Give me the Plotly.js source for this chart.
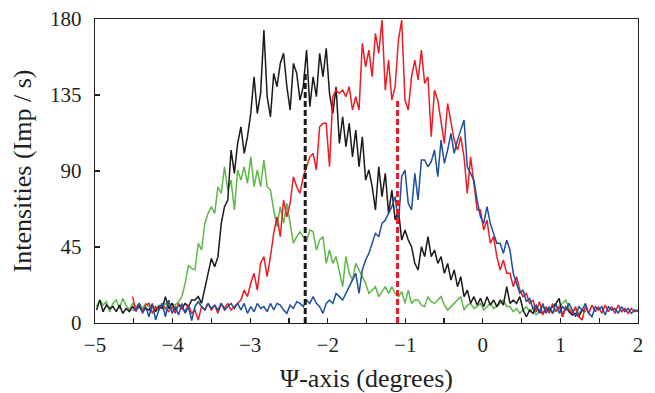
<!DOCTYPE html>
<html><head><meta charset="utf-8">
<script src="https://cdn.plot.ly/plotly-3.0.1.min.js"></script>
<style>html,body{margin:0;padding:0;background:#fff}</style>
</head><body><div id="chart" style="width:655px;height:393px"></div>
<script>
// Sampling grid (degrees)
const step = 0.0423;
const startBlackGreen = -4.980;
const startRedBlue = -4.515;

const blackSeries = [7.7,13.6,6.7,10.6,8.6,9.7,6.7,10.6,5.7,8.6,6.7,9.7,7.7,9.7,6.7,8.6,7.7,10.6,6.7,9.7,8.6,15.6,8.6,11.6,7.7,10.6,8.6,11.6,9.7,13.6,
13.6,15.6,11.6,21.5,29.4,38.2,33.3,39.3,59,68.9,72.8,102.4,88.6,106.3,116.2,100.4,110.3,124.1,145.8,124.1,136,173.5,134,122.1,147.8,139.9,153.7,159.7,139.9,126.1,153.7,147.8,
132,139.9,161.6,128.1,145.8,134,159.7,145.8,162.6,136,124.1,139.9,106.3,122.1,104.4,118.2,98.4,114.2,92.5,110.3,84.6,90.6,80.7,66.9,92.5,74.8,88.6,64.9,78.7,61,66.9,49.1,
55.1,49.1,45.2,35.3,31.4,45.2,39.3,51.1,39.3,43.2,35.3,39.3,29.4,35.3,25.4,31.4,21.5,27.4,15.6,19.5,11.6,15.6,10.6,14.6,9.7,15.6,10.6,13.6,9.7,13.6,10.6,21.5,
11.6,13.6,11.6,15.6,7.7,3.7,7.7,5.7,9.7,6.7,5.7,8.6,7.7,9.7,11.6,14.6,3.7,9.7,6.7,4.7,5.7,3.7,7.7,6.7];

const greenSeries = [9.7,13.6,10.6,12.6,6.7,11.6,13.6,8.6,14.6,10.6,7.7,11.6,9.7,11.6,8.6,11.6,9.7,10.6,7.7,10.6,9.7,11.6,8.6,11.6,10.6,12.6,15.6,23.5,34.3,32.3,
31.4,47.2,43.2,59,64.9,68.9,64.9,80.7,76.7,92.5,78.7,84.6,66.9,90.6,84.6,92.5,82.7,98.4,80.7,90.6,80.7,96.5,80.7,78.7,66.9,57,68.9,59,70.9,59,47.2,51.1,
54,51.1,48.2,55.1,54,43.2,49.1,51.1,35.3,43.2,35.3,39.3,29.4,21.5,39.3,29.4,25.4,35.3,31.4,27.4,23.5,17.5,19.5,21.5,15.6,18.5,21.5,17.5,21.5,17.5,15.6,18.5,
11.6,19.5,11.6,13.6,13.6,10.6,9.7,15.6,12.6,11.6,13.6,15.6,10.6,7.7,9.7,11.6,13.6,15.6,7.7,10.6,11.6,8.6,9.7,11.6,7.7,9.7,11.6,8.6,9.7,11.6,13.6,9.7,
9.7,6.7,8.6,5.7,7.7,9.7,6.7,8.6,4.7,7.7,9.7,6.7,8.6,5.7,7.7,9.7,11.6,13.6,8.6,6.7,7.7,5.7,7.7,6.7];

const redSeries = [15.6,6.7,11.6,6.7,10.6,11.6,5.7,9.7,7.7,11.6,8.6,6.7,9.7,5.7,11.6,8.6,6.7,10.6,5.7,
7.7,1.8,9.7,7.7,11.6,7.7,10.6,5.7,11.6,8.6,11.6,7.7,9.7,11.6,13.6,19.5,15.6,23.5,29.4,19.5,35.3,39.3,27.4,39.3,53.1,62.9,51.1,72.8,62.9,70.9,86.6,80.7,
76.7,86.6,92.5,98.4,100.4,90.6,116.2,118.2,118.2,92.5,134,137.9,136,137.9,134,139.9,126.1,134,126.1,165.6,151.7,161.6,145.8,171.5,159.7,179.4,137.9,155.7,132,139.9,167.5,179.4,
132,126.1,145.8,155.7,143.9,161.6,141.9,145.8,110.3,137.9,132,120.2,106.3,130,120.2,108.3,102.4,110.3,98.4,76.7,98.4,82.7,66.9,66.9,55.1,61,47.2,51.1,39.3,31.4,37.3,29.4,
29.4,21.5,27.4,19.5,15.6,17.5,11.6,13.6,6.7,12.6,4.7,9.7,5.7,11.6,6.7,9.7,3.7,9.7,7.7,5.7,9.7,3.7,1.8,9.7,5.7,10.6,6.7,9.7,5.7,10.6,6.7,9.7,5.7,10.6,6.7,8.6,5.7,8.6,6.7,7.7];

const blueSeries = [7.7,7.7,11.6,5.7,9.7,3.7,11.6,1.8,7.7,11.6,3.7,13.6,5.7,9.7,4.7,11.6,5.7,9.7,1.5,
9.7,12.6,9.7,7.7,11.6,8.6,10.6,7.7,11.6,7.7,9.7,11.6,8.6,11.6,7.7,11.6,5.7,9.7,6.7,11.6,8.6,9.7,6.7,11.6,7.7,11.6,10.6,7.7,5.7,10.6,8.6,12.6,
11.6,9.7,13.6,11.6,15.6,11.6,9.7,5.7,11.6,13.6,11.6,17.5,15.6,13.6,17.5,21.5,25.4,29.4,17.5,31.4,37.3,41.2,47.2,53.1,51.1,59,61,64.9,68.9,74.8,59,86.6,
90.6,70.9,66.9,88.6,72.8,96.5,96.5,92.5,95.5,102.4,86.6,108.3,94.5,102.4,112.3,100.4,108.3,114.2,120.2,92.5,88.6,84.6,72.8,62.9,59,68.9,59,53.1,47.2,47.2,41.2,49.1,
43.2,29.4,23.5,17.5,19.5,12.6,14.6,8.6,10.6,5.7,11.6,5.7,9.7,5.7,11.6,5.7,9.7,7.7,11.6,7.7,3.7,9.7,7.7,11.6,5.7,3.7,9.7,7.7,9.7,4.7,9.7,7.7,8.6,5.7,9.7,6.7,8.6,5.7,7.7,6.7];

// Peak markers (dashed verticals)
const markerX = [-2.29, -1.1];
const markerTop = [149, 132];

const xTicks = [-5, -4, -3, -2, -1, 0, 1, 2];
const yTicks = [0, 45, 90, 135, 180];

const C = {black:'#1a1a1a', red:'#ec1c24', green:'#5cb847', blue:'#1d4f9f'};
const lw = 1.5;

const traces = [
  {y: greenSeries, x0: startBlackGreen, dx: step, type:'scatter', mode:'lines', line:{color:C.green, width:lw}},
  {y: blackSeries, x0: startBlackGreen, dx: step, type:'scatter', mode:'lines', line:{color:C.black, width:lw}},
  {y: redSeries, x0: startRedBlue, dx: step, type:'scatter', mode:'lines', line:{color:C.red, width:lw}},
  {y: blueSeries, x0: startRedBlue, dx: step, type:'scatter', mode:'lines', line:{color:C.blue, width:lw}},
  {x: [markerX[0], markerX[0]], y: [0, markerTop[0]], type:'scatter', mode:'lines', line:{color:C.black, width:3, dash:'6px,3px'}},
  {x: [markerX[1], markerX[1]], y: [0, markerTop[1]], type:'scatter', mode:'lines', line:{color:C.red, width:3, dash:'6px,3px'}}
];

const fontFam = 'Liberation Serif, Times New Roman, serif';
const layout = {
  width: 655, height: 393,
  margin: {l:95, r:17, t:19, b:70},
  showlegend: false,
  paper_bgcolor:'#fff', plot_bgcolor:'#fff',
  font: {family: fontFam, size: 21, color:'#231f20'},
  xaxis: {
    range:[-5, 2], tickvals: xTicks, ticks:'inside', ticklen:5, tickwidth:1.2, tickcolor:'#231f20',
    minor: {dtick:0.5, ticks:'inside', ticklen:5, tickwidth:1.2, tickcolor:'#231f20'},
    showline:true, mirror:true, linecolor:'#231f20', linewidth:1.3, showgrid:false, zeroline:false,
    tickfont:{family:fontFam, size:21}, ticklabelstandoff:2,
    title:{text:'Ψ-axis (degrees)', font:{family:fontFam, size:26}, standoff:13}
  },
  yaxis: {
    range:[0, 180], tickvals: yTicks, ticks:'inside', ticklen:5, tickwidth:1.2, tickcolor:'#231f20',
    showline:true, mirror:true, linecolor:'#231f20', linewidth:1.3, showgrid:false, zeroline:false,
    tickfont:{family:fontFam, size:21}, ticklabelstandoff:8,
    title:{text:'Intensities (Imp / s)', font:{family:fontFam, size:26}, standoff:11}
  }
};

Plotly.newPlot('chart', traces, layout, {displayModeBar:false, staticPlot:true});
</script>
</body></html>
